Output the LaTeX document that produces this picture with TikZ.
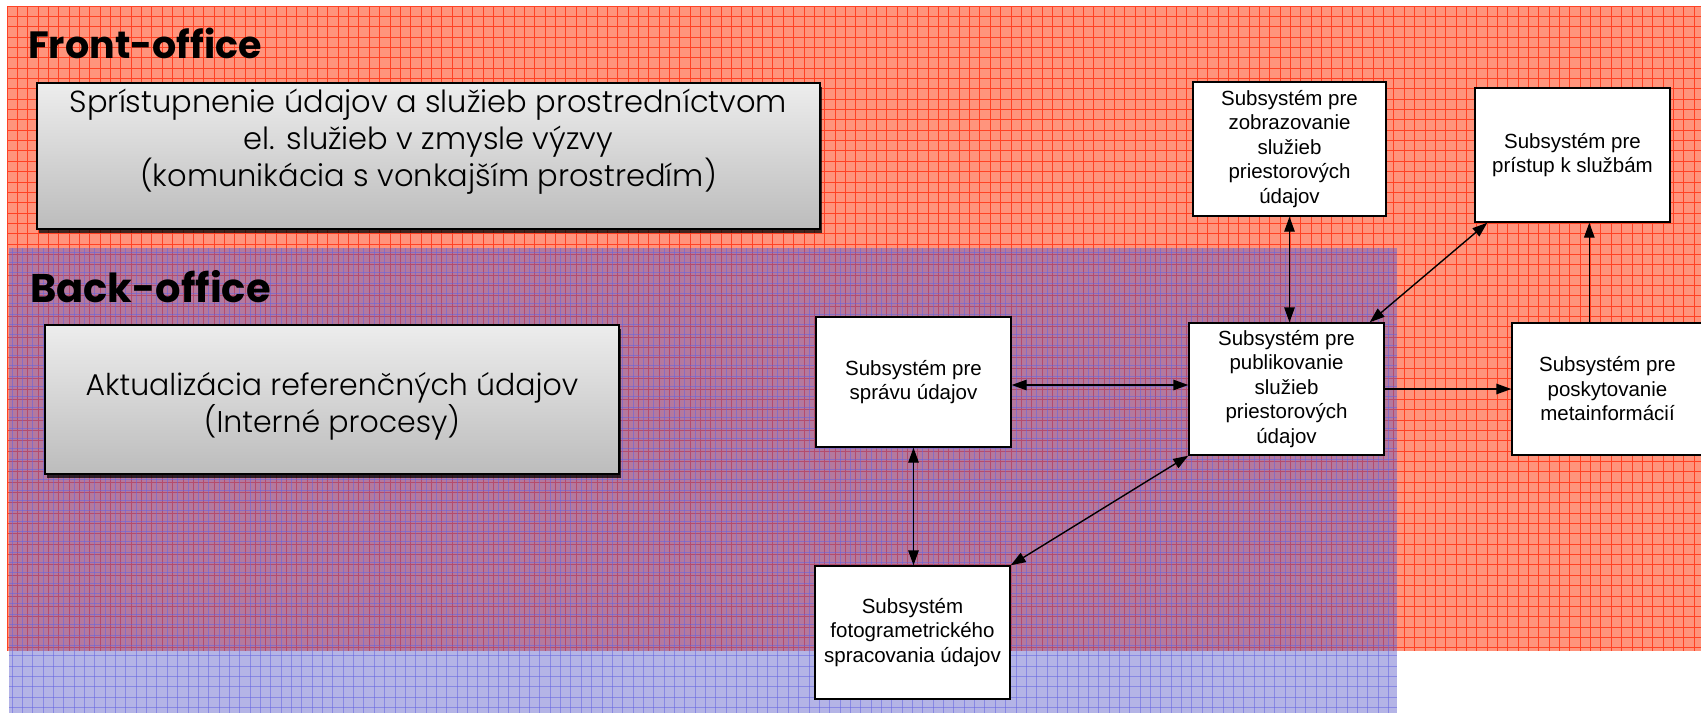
\documentclass[tikz,border=0pt]{standalone}
\usepackage{fontspec}
\setmainfont{Liberation Sans}
\newfontfamily\gothic{Poppins}
\newfontfamily\gothiclight{Poppins Light}
\usetikzlibrary{arrows.meta,calc,shadows}
\definecolor{redbg}{RGB}{255,148,124}
\definecolor{redln}{RGB}{255,66,36}
\definecolor{bluebg}{RGB}{90,90,200}
\definecolor{blueln}{RGB}{100,100,225}
\definecolor{gtop}{RGB}{237,237,237}
\definecolor{gbot}{RGB}{188,188,188}
\tikzset{
  bigbox/.style={draw=black, line width=2.4pt, top color=gtop, bottom color=gbot, inner sep=0pt,
    drop shadow={shadow xshift=2pt, shadow yshift=-4pt, opacity=0.75, fill=black}},
  bigtext/.style={align=center, inner sep=0pt, font=\gothiclight\fontsize{30.5}{37}\selectfont},
  sbox/.style={draw=black, line width=1.4pt, fill=white, inner sep=0pt, align=center,
    font=\fontsize{20.5}{24.5}\selectfont},
  title/.style={anchor=base west, inner sep=0pt, font=\gothic\bfseries\fontsize{38}{46}\selectfont},
  tip/.tip={Triangle[length=15pt,width=10.5pt]},
  arr/.style={line width=1.4pt, -tip},
  biarr/.style={line width=1.4pt, tip-tip},
}
\begin{document}
\begin{tikzpicture}[x=1pt,y=-1pt]
\useasboundingbox (0,0) rectangle (1701,713);
\fill[white] (0,0) rectangle (1701,713);
% Front-office region (red grid)
\fill[redbg] (7,6) rectangle (1701,651);
\begin{scope}
  \clip (7,6) rectangle (1701,651);
  \foreach \i in {0,...,165} \draw[redln, line width=0.9pt] ({7+\i*10.35},6) -- ++(0,645);
  \foreach \j in {0,...,63} \draw[redln, line width=0.9pt] (7,{6+\j*10.35}) -- ++(1694,0);
\end{scope}
% Back-office region (blue grid)
\fill[bluebg, opacity=0.45] (9,248) rectangle (1397,713);
\begin{scope}
  \clip (9,248) rectangle (1397,713);
  \foreach \i in {0,...,135} \draw[blueln, line width=0.9pt, opacity=0.55] ({12+\i*10.35},248) -- ++(0,465);
  \foreach \j in {0,...,45} \draw[blueln, line width=0.9pt, opacity=0.55] (9,{252+\j*10.35}) -- ++(1388,0);
\end{scope}
% titles
\node[title] (fol) at (28,58) {Front-office};
\node[title, font=\gothic\bfseries\fontsize{40}{48}\selectfont] (bol) at (30,302) {Back-office};
% big boxes
\node[bigbox, minimum width=783pt, minimum height=146pt] (fo) at (428.5,156) {};
\node[bigtext] (fot) at (428.5,141.5) {Sprístupnenie údajov a služieb prostredníctvom\\el. služieb v zmysle výzvy\\(komunikácia s vonkajším prostredím)};
\node[bigbox, minimum width=574pt, minimum height=149pt] (bo) at (332,399.5) {};
\node[bigtext, font=\gothiclight\fontsize{30}{37}\selectfont] (bot) at (332,406) {Aktualizácia referenčných údajov\\(Interné procesy)};
% subsystem boxes
\node[sbox, minimum width=193pt, minimum height=134pt] (zob) at (1289.5,149) {Subsystém pre\\zobrazovanie\\služieb\\priestorových\\údajov};
\node[sbox, minimum width=195pt, minimum height=134pt] (pri) at (1572.5,155) {Subsystém pre\\prístup k službám};
\node[sbox, minimum width=195pt, minimum height=130pt] (spr) at (913.5,382) {Subsystém pre\\správu údajov};
\node[sbox, minimum width=195pt, minimum height=132pt] (pub) at (1286.5,389) {Subsystém pre\\publikovanie\\služieb\\priestorových\\údajov};
\node[sbox, minimum width=191pt, minimum height=132pt] (met) at (1607.5,389) {Subsystém pre\\poskytovanie\\metainformácií};
\node[sbox, minimum width=195pt, minimum height=133pt] (fot2) at (912.5,632.5) {Subsystém\\fotogrametrického\\spracovania údajov};
% connectors
\draw[biarr] (zob.south) -- (zob.south |- pub.north);
\coordinate (pa) at ($(pri.south west)+(13,0)$);
\coordinate (pb) at ($(pub.north east)+(-15,0)$);
\draw[biarr] (pa) -- (pb);
\coordinate (ma) at ($(met.north west)+(78,0)$);
\draw[arr] (ma) -- (ma |- pri.south);
\draw[arr] (pub.east) -- (pub.east -| met.west);
\coordinate (sa) at ($(spr.east)+(0,3)$);
\draw[biarr] (sa) -- (sa -| pub.west);
\draw[biarr] (spr.south) -- (spr.south |- fot2.north);
\draw[biarr] (pub.south west) -- (fot2.north east);
\end{tikzpicture}
\end{document}
